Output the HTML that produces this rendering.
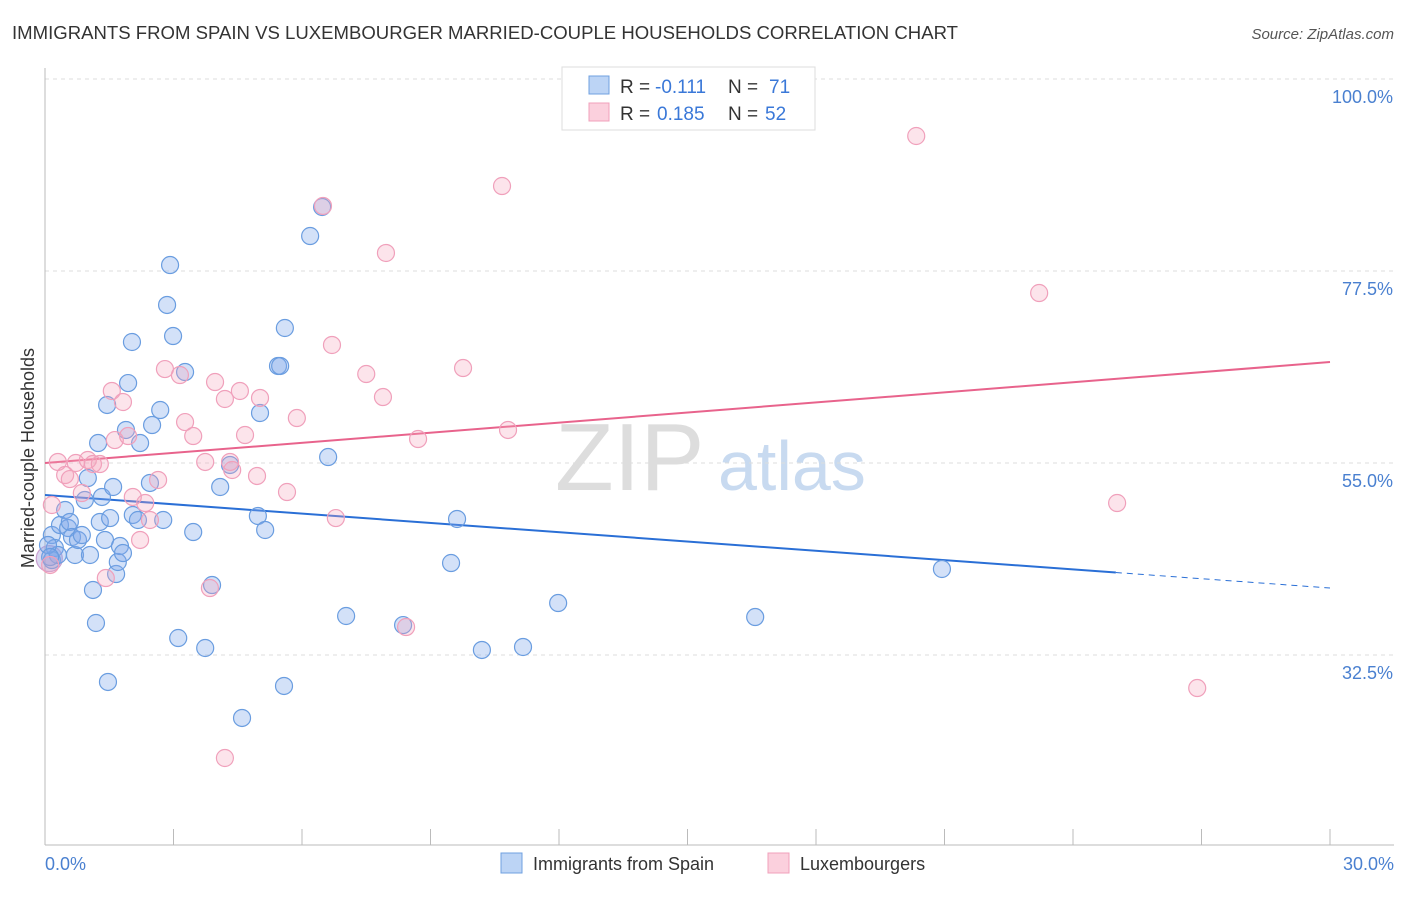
<!DOCTYPE html>
<html><head><meta charset="utf-8"><style>
body{margin:0;background:#fff;font-family:"Liberation Sans",sans-serif;}
svg text{font-family:"Liberation Sans",sans-serif;}
</style></head><body>
<svg id="chart" width="1406" height="892" viewBox="0 0 1406 892">
<text x="12" y="39" font-size="18" fill="#333" textLength="946" lengthAdjust="spacingAndGlyphs">IMMIGRANTS FROM SPAIN VS LUXEMBOURGER MARRIED-COUPLE HOUSEHOLDS CORRELATION CHART</text>
<text x="1394" y="39" font-size="15" fill="#555" text-anchor="end" font-style="italic">Source: ZipAtlas.com</text>
<g>
<text x="555" y="490" font-size="96" fill="#ddd" font-family="Liberation Serif">ZIP</text>
<text x="718" y="490" font-size="70" fill="#c8daf0">atlas</text>
</g>
<g id="grid"></g><g id="axes"></g><g id="lines"></g><g id="points"></g>
<text x="34" y="458" font-size="18" fill="#333" text-anchor="middle" transform="rotate(-90 34 458)">Married-couple Households</text>
<text x="45" y="870" font-size="18" fill="#4a80d0">0.0%</text>
<text x="1394" y="870" font-size="18" fill="#4a80d0" text-anchor="end">30.0%</text>
<g>
<rect x="562" y="67" width="253" height="63" fill="#fff" stroke="#ddd"/>
<rect x="589" y="76" width="20" height="18" fill="#bcd4f5" stroke="#6fa0e0"/>
<rect x="589" y="103" width="20" height="18" fill="#fbd0dd" stroke="#f0a0bb"/>
<text x="620" y="93" font-size="19" fill="#333">R =</text>
<text x="655" y="93" font-size="19" fill="#3a78d8">-0.111</text>
<text x="728" y="93" font-size="19" fill="#333">N =</text>
<text x="769" y="93" font-size="19" fill="#3a78d8">71</text>
<text x="620" y="120" font-size="19" fill="#333">R =</text>
<text x="657" y="120" font-size="19" fill="#3a78d8">0.185</text>
<text x="728" y="120" font-size="19" fill="#333">N =</text>
<text x="765" y="120" font-size="19" fill="#3a78d8">52</text>
</g>
<g>
<rect x="501" y="853" width="21" height="20" fill="#bcd4f5" stroke="#6fa0e0"/>
<text x="533" y="870" font-size="18" fill="#333">Immigrants from Spain</text>
<rect x="768" y="853" width="21" height="20" fill="#fbd0dd" stroke="#f0a0bb"/>
<text x="800" y="870" font-size="18" fill="#333">Luxembourgers</text>
</g>
</svg>
<script>
const yTicks=[100,77.5,55,32.5];
const yTickLabels=["100.0%","77.5%","55.0%","32.5%"];
const xTicks=[0,3,6,9,12,15,18,21,24,27,30];
const blueX=[.16,.23,.16,.30,.35,.47,.54,.58,.63,.70,.77,.86,.93,1.00,1.05,1.12,1.19,1.24,1.28,1.33,1.40,1.45,1.47,1.52,1.59,1.66,1.70,1.75,1.82,1.89,1.94,2.03,2.05,2.17,2.22,2.45,2.50,2.69,2.76,2.85,2.92,2.99,3.11,3.27,3.46,3.74,3.90,4.09,4.32,4.60,4.97,5.02,5.14,5.44,5.49,5.58,5.60,6.19,6.47,6.61,7.03,8.36,9.48,9.62,10.20,11.16,11.98,16.58,20.94,.07,.12];
const blueY=[46.56,45.04,43.63,44.22,47.73,49.49,47.38,48.09,46.33,44.22,45.98,46.56,50.66,53.24,44.22,40.12,36.25,57.34,48.09,51.02,45.98,61.8,29.34,48.55,52.19,41.99,43.4,45.27,44.45,58.87,64.37,69.18,48.91,48.32,57.34,52.66,59.45,61.21,48.32,73.52,78.2,69.88,34.49,65.66,46.91,33.32,40.7,52.19,54.77,25.12,48.79,60.86,47.15,66.37,66.37,28.87,70.82,81.6,85.0,55.7,37.07,36.01,43.28,48.44,33.09,33.44,38.59,36.95,42.58,45.39,43.98];
const pinkX=[.12,.16,.30,.47,.58,.72,.86,1.00,1.12,1.28,1.42,1.56,1.63,1.82,1.94,2.05,2.34,2.45,2.22,2.64,2.80,3.15,3.27,3.46,3.74,3.85,3.97,4.20,4.20,4.37,4.55,4.67,4.95,5.02,5.65,5.88,6.49,6.70,6.79,7.50,7.89,7.96,8.43,8.71,9.76,10.67,10.81,20.34,23.21,25.03,26.90,4.32];
const pinkY=[43.05,50.08,55.12,53.59,53.12,55.0,51.48,55.35,54.88,54.88,41.52,63.44,57.69,62.15,58.16,51.02,50.31,48.32,45.98,53.01,66.01,65.31,59.8,58.16,55.12,40.35,64.49,62.5,20.43,54.18,63.44,58.28,53.48,62.62,51.6,60.27,85.12,68.83,48.55,65.43,62.73,79.61,35.78,57.81,66.13,87.46,58.87,93.32,74.92,50.31,28.63,55.12];
const bigX=[.1], bigY=[43.8];
const blueTrend=[51.25,40.35], blueSolidEnd=25, pinkTrend=[55.0,66.83];
const NS="http://www.w3.org/2000/svg";
const X=v=>45+v/30*1285, Y=v=>79+(100-v)*192/22.5;
function mk(tag,attrs,parent){const e=document.createElementNS(NS,tag);for(const k in attrs)e.setAttribute(k,attrs[k]);parent.appendChild(e);return e;}
const grid=document.getElementById('grid'),axes=document.getElementById('axes'),lines=document.getElementById('lines'),pts=document.getElementById('points');
yTicks.forEach((t,i)=>{
 const l=mk('line',{x1:45,x2:1394,y1:Y(t),y2:Y(t),stroke:'#ddd','stroke-dasharray':'4,4'},grid);
 
 
 const tx=mk('text',{x:1393,y:Y(t)+24,'font-size':18,fill:'#4a80d0','text-anchor':'end'},grid);
 tx.textContent=yTickLabels[i];
 
 
});
const ya=mk('line',{x1:45,x2:45,y1:68,y2:845,stroke:'#bbb'},axes);


const xa=mk('line',{x1:45,x2:1394,y1:845,y2:845,stroke:'#bbb'},axes);


xTicks.forEach(t=>{
 const l=mk('line',{x1:X(t),x2:X(t),y1:829,y2:845,stroke:'#bbb'},axes);
 
 
});
function lineAt(tr,x){return tr[0]+(tr[1]-tr[0])*x/30;}
const b1=mk('line',{x1:X(0),y1:Y(blueTrend[0]),x2:X(blueSolidEnd),y2:Y(lineAt(blueTrend,blueSolidEnd)),stroke:'#2a6fd6','stroke-width':2},lines);


const b2=mk('line',{x1:X(blueSolidEnd),y1:Y(lineAt(blueTrend,blueSolidEnd)),x2:X(30),y2:Y(blueTrend[1]),stroke:'#2a6fd6','stroke-width':1,'stroke-dasharray':'6,5'},lines);


const p1=mk('line',{x1:X(0),y1:Y(pinkTrend[0]),x2:X(30),y2:Y(pinkTrend[1]),stroke:'#e8638c','stroke-width':2},lines);


bigX.forEach((x,i)=>{
 const c=mk('circle',{cx:X(x),cy:Y(bigY[i]),r:13,fill:'rgba(150,140,210,0.35)',stroke:'#c9a0d0','stroke-width':1.2},pts);
 
 
});
blueX.forEach((x,i)=>{
 const c=mk('circle',{cx:X(x),cy:Y(blueY[i]),r:8.5,fill:'rgba(130,170,235,0.35)',stroke:'#6a9de0','stroke-width':1.2},pts);
 
 
});
pinkX.forEach((x,i)=>{
 const c=mk('circle',{cx:X(x),cy:Y(pinkY[i]),r:8.5,fill:'rgba(245,165,190,0.3)',stroke:'#f0a0bb','stroke-width':1.2},pts);
 
 
});
</script>
</body></html>
